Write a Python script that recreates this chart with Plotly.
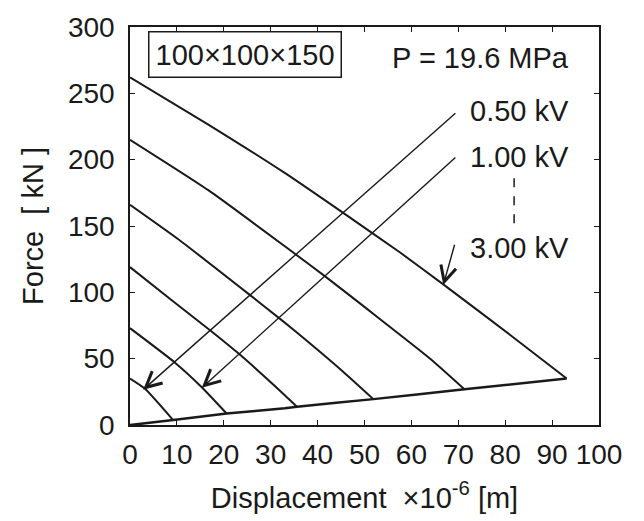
import plotly.graph_objects as go

# ---- data ----
voltages = ["0.50 kV", "1.00 kV", "1.50 kV", "2.00 kV", "2.50 kV", "3.00 kV"]
disp_050 = [0, 3.2, 9.2]
force_050 = [35, 27.3, 3.7]
disp_100 = [0, 9.6, 15.3, 20.6]
force_100 = [73, 47, 28.5, 8.7]
disp_150 = [0, 8.9, 17.4, 23.1, 33.0, 35.6]
force_150 = [119, 94, 70.5, 54, 22.5, 13.8]
disp_200 = [0, 10.3, 25.2, 32.0, 37.7, 45.5, 51.9]
force_200 = [166, 140, 99, 80, 63.5, 40, 19.5]
disp_250 = [0, 16.7, 34.8, 41.6, 64.0, 71.3]
force_250 = [215, 177, 130, 112, 50, 27]
disp_300 = [0, 16, 33, 45, 57.6, 66.8, 81, 93.1]
force_300 = [262, 228, 190, 161, 130, 106, 68, 35]
base_disp = [0, 9.2, 20.6, 33.0, 35.6, 51.9, 71.3, 93.1]
base_force = [0, 3.7, 8.7, 12.6, 13.8, 19.5, 27, 35]

x_ticks = list(range(0, 101, 10))
y_ticks = list(range(0, 301, 50))

FONT = "Liberation Sans, Arial, Helvetica, sans-serif"
INK = "#1a1a1a"

fig = go.Figure()
series = [(disp_050, force_050), (disp_100, force_100), (disp_150, force_150),
          (disp_200, force_200), (disp_250, force_250), (disp_300, force_300)]
for name, (xs, ys) in zip(voltages, series):
    fig.add_trace(go.Scatter(x=xs, y=ys, mode="lines", name=name,
                             line=dict(color=INK, width=2, shape="spline", smoothing=0.5),
                             showlegend=False))
fig.add_trace(go.Scatter(x=base_disp, y=base_force, mode="lines", name="base",
                         line=dict(color=INK, width=2.5, shape="spline", smoothing=0.5),
                         showlegend=False))

# arrows: (tail_x, tail_y, tip_x, tip_y)
arrows = [(69.7, 236.0, 2.8, 26.6), (69.7, 202.7, 15.3, 28.0), (69.3, 137.0, 66.8, 105.5)]
for tx, ty, hx, hy in arrows:
    fig.add_annotation(x=hx, y=hy, ax=tx, ay=ty, xref="x", yref="y", axref="x", ayref="y",
                       text="", showarrow=True, arrowhead=5, arrowsize=2.2,
                       arrowwidth=1.4, arrowcolor=INK, standoff=0)

labels = [("0.50 kV", 72.0, 236.5), ("1.00 kV", 72.0, 202.0), ("3.00 kV", 72.0, 133.5)]
for txt, lx, ly in labels:
    fig.add_annotation(x=lx, y=ly, xref="x", yref="y", text=txt, showarrow=False,
                       xanchor="left", yanchor="middle",
                       font=dict(family=FONT, size=29, color=INK))

fig.add_annotation(x=55.5, y=277, xref="x", yref="y", text="P = 19.6 MPa", showarrow=False,
                   xanchor="left", yanchor="middle", font=dict(family=FONT, size=29, color=INK))
fig.add_annotation(x=3.9, y=279, xref="x", yref="y", text="100×100×150", showarrow=False,
                   xanchor="left", yanchor="middle", bordercolor=INK, borderwidth=1.5,
                   borderpad=6, bgcolor="white",
                   font=dict(family=FONT, size=29, color=INK))

# dashed connector between labels
fig.add_shape(type="line", x0=81.9, x1=81.9, y0=186, y1=150, xref="x", yref="y",
              line=dict(color=INK, width=1.5, dash="dash"))

axis_common = dict(showgrid=False, zeroline=False, showline=True, linecolor=INK,
                   linewidth=1.5, mirror="ticks", ticks="inside", ticklen=5,
                   tickwidth=1.2, tickcolor=INK,
                   tickfont=dict(family=FONT, size=28, color=INK))
fig.update_xaxes(range=[0, 100], tickvals=x_ticks, ticklabelstandoff=4,
                 title=dict(text="Displacement  ×10<sup>-6</sup> [m]", standoff=18,
                            font=dict(family=FONT, size=29, color=INK)),
                 **axis_common)
fig.update_yaxes(range=[0, 300], tickvals=y_ticks, ticklabelstandoff=8,
                 title=dict(text="Force  [ kN ]", standoff=16,
                            font=dict(family=FONT, size=29, color=INK)),
                 **axis_common)
fig.update_layout(width=644, height=521, margin=dict(l=130, r=45, t=22, b=96),
                  plot_bgcolor="white", paper_bgcolor="white")
fig.write_html("out.html", config={"displayModeBar": False},
               post_script="document.body.style.margin='0';document.body.style.overflow='hidden';")
